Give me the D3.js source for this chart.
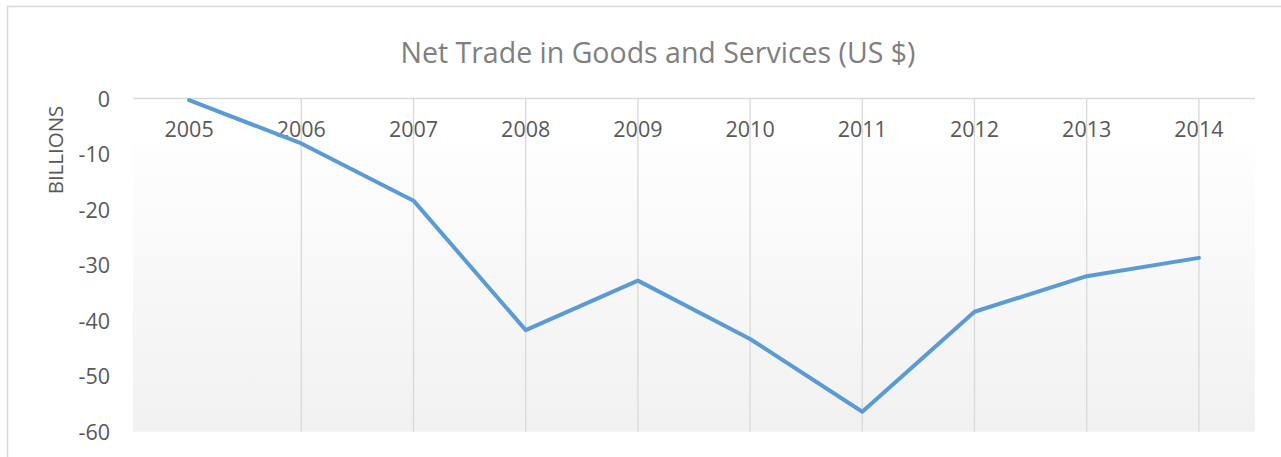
<!DOCTYPE html>
<html>
<head>
<meta charset="utf-8">
<script src="https://cdn.jsdelivr.net/npm/d3@7"></script>
<style>
  html, body { margin: 0; padding: 0; background: #ffffff; }
  svg { display: block; }
  text { font-family: "Open Sans", "Noto Sans", sans-serif; }
</style>
</head>
<body>
<svg id="chart" width="1281" height="457"></svg>
<script>
// Net trade in goods and services, billions of US dollars
const years = ["2005", "2006", "2007", "2008", "2009", "2010", "2011", "2012", "2013", "2014"];
const netTrade = [-0.3, -8.1, -18.4, -41.7, -32.8, -43.3, -56.4, -38.4, -32.0, -28.7];
const yTicks = [0, -10, -20, -30, -40, -50, -60];

const svg = d3.select("#chart");
const W = 1281, H = 457;
const plot = { left: 133, right: 1255, top: 98.5, bottom: 431.7 };

// chart frame (continues past the visible edge on the right and bottom)
svg.append("rect")
  .attr("x", 7.5).attr("y", 6.5)
  .attr("width", W + 20).attr("height", H + 20)
  .attr("fill", "#ffffff")
  .attr("stroke", "#d9d9d9").attr("stroke-width", 1.5);

const defs = svg.append("defs");
const grad = defs.append("linearGradient")
  .attr("id", "plotFill").attr("x1", 0).attr("y1", 0).attr("x2", 0).attr("y2", 1);
grad.append("stop").attr("offset", "0").attr("stop-color", "#ffffff");
grad.append("stop").attr("offset", "0.13").attr("stop-color", "#ffffff");
grad.append("stop").attr("offset", "0.131").attr("stop-color", "#fefefe");
grad.append("stop").attr("offset", "1").attr("stop-color", "#f1f1f1");

const x = d3.scaleBand().domain(years).range([plot.left, plot.right]);
const y = d3.scaleLinear().domain([-60, 0]).range([plot.bottom, plot.top]);
const cx = d => x(d) + x.bandwidth() / 2;

svg.append("rect")
  .attr("x", plot.left).attr("y", plot.top)
  .attr("width", plot.right - plot.left).attr("height", plot.bottom - plot.top)
  .attr("fill", "url(#plotFill)");

// vertical gridlines at each category after the first
svg.append("g")
  .selectAll("line")
  .data(years.slice(1))
  .join("line")
  .attr("x1", d => cx(d)).attr("x2", d => cx(d))
  .attr("y1", y(0)).attr("y2", plot.bottom)
  .attr("stroke", "#d9d9d9").attr("stroke-width", 1.3);

// zero line
svg.append("line")
  .attr("x1", plot.left).attr("x2", plot.right)
  .attr("y1", y(0)).attr("y2", y(0))
  .attr("stroke", "#d9d9d9").attr("stroke-width", 1.5);

// value axis
const yAxis = d3.axisLeft(y).tickValues(yTicks).tickSize(0).tickPadding(0)
  .tickFormat(d => d3.format("d")(d).replace("−", "-"));
const yg = svg.append("g").attr("transform", `translate(110,0)`).call(yAxis);
yg.select(".domain").remove();
yg.selectAll("text")
  .attr("fill", "#595959").style("font-size", "21.5px")
  .attr("dy", "0.35em");

// category labels sit just below the zero line
const xAxis = d3.axisBottom(x).tickSize(0).tickPadding(0);
const xg = svg.append("g").attr("transform", `translate(0,${y(0)})`).call(xAxis);
xg.select(".domain").remove();
xg.selectAll("text")
  .attr("fill", "#595959").style("font-size", "21.5px")
  .attr("y", 0).attr("dy", "1.78em");

// series line
const line = d3.line()
  .x((d, i) => cx(years[i]))
  .y(d => y(d));
svg.append("path")
  .datum(netTrade)
  .attr("d", line)
  .attr("fill", "none")
  .attr("stroke", "#5b9bd5")
  .attr("stroke-width", 4)
  .attr("stroke-linejoin", "round")
  .attr("stroke-linecap", "round");

// titles
svg.append("text")
  .attr("x", 658).attr("y", 63)
  .attr("text-anchor", "middle")
  .attr("fill", "#7f7f7f")
  .style("font-size", "28.5px")
  .text("Net Trade in Goods and Services (US $)");

svg.append("text")
  .attr("transform", "translate(63,150) rotate(-90)")
  .attr("text-anchor", "middle")
  .attr("fill", "#595959")
  .style("font-size", "20.5px")
  .text("BILLIONS");
</script>
</body>
</html>
